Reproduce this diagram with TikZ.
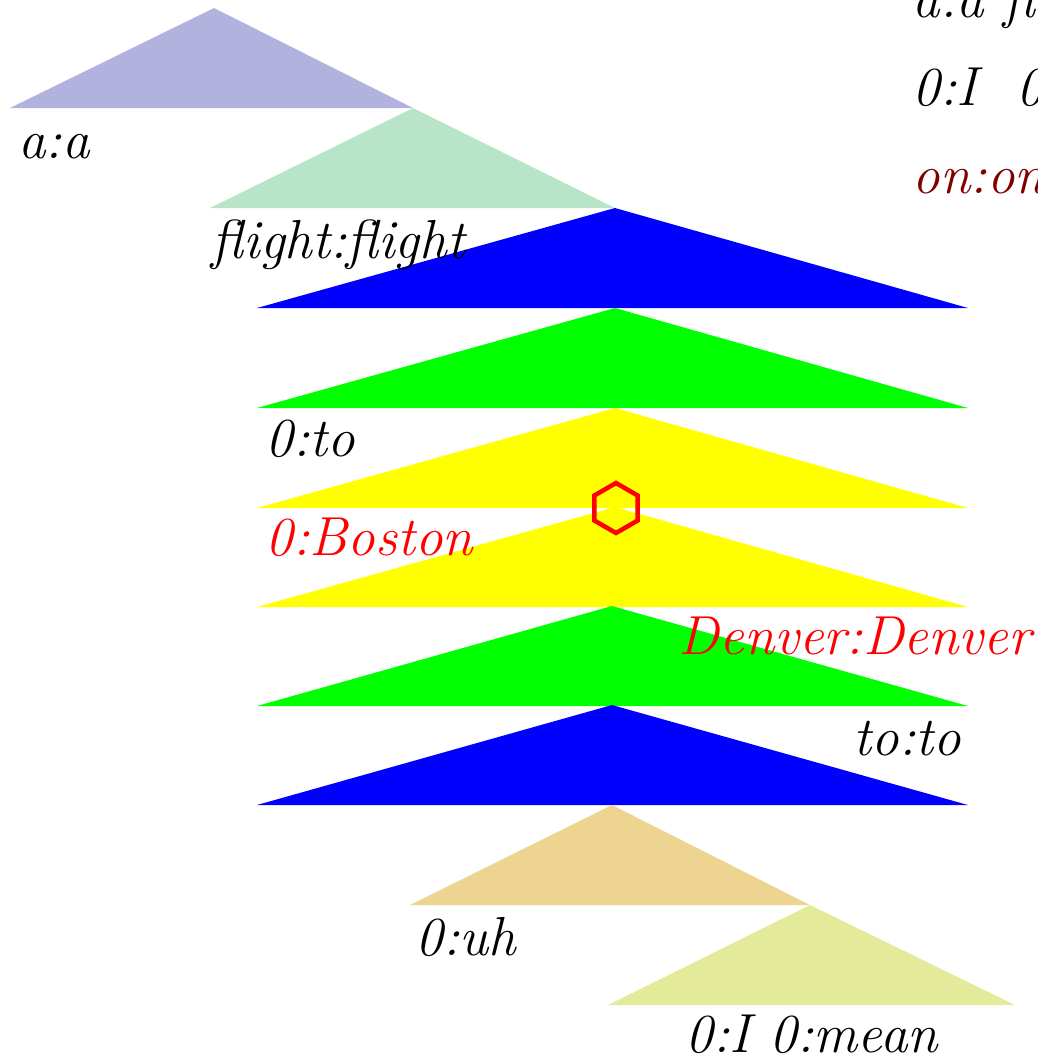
\documentclass[tikz,border=0pt]{standalone}
\usetikzlibrary{shapes.geometric, positioning}

\definecolor{lavender}{RGB}{178,178,223}
\definecolor{mint}{RGB}{184,229,200}
\definecolor{sand}{RGB}{237,213,145}
\definecolor{pear}{RGB}{227,235,155}
\definecolor{maroon}{RGB}{128,0,0}
\definecolor{pureyellow}{RGB}{255,255,0}

\begin{document}
\begin{tikzpicture}[
    x=0.2pt, y=-0.2pt,
    % Filled span triangle
    span/.style={draw=none},
    % Word label (left aligned on its baseline)
    word/.style={font=\fontsize{11}{13}\selectfont\itshape, inner sep=0pt, anchor=base west},
    % Word label (right aligned on its baseline)
    wordr/.style={word, anchor=base east},
    % Hexagon marker
    marker/.style={
        regular polygon, regular polygon sides=6, shape border rotate=90,
        draw=red, line width=0.9pt, minimum size=10pt, inner sep=0pt
    }
]
    \useasboundingbox (0,0) rectangle (1038,1057);

    % =========================================================================
    % Span triangles, top to bottom
    % =========================================================================
    \fill[span, lavender]   (214,8)   -- (413,108) -- (10,108)  -- cycle;
    \fill[span, mint]       (413,108) -- (615,208) -- (210,208) -- cycle;
    \fill[span, blue]       (615,208) -- (968,308) -- (257,308) -- cycle;
    \fill[span, green]      (615,308) -- (968,408) -- (257,408) -- cycle;
    \fill[span, pureyellow] (615,408) -- (968,508) -- (257,508) -- cycle;
    \fill[span, pureyellow] (615,507) -- (968,607) -- (257,607) -- cycle;
    \fill[span, green]      (612,606) -- (968,706) -- (257,706) -- cycle;
    \fill[span, blue]       (612,705) -- (968,805) -- (257,805) -- cycle;
    \fill[span, sand]       (612,805) -- (810,905) -- (410,905) -- cycle;
    \fill[span, pear]       (810,905) -- (1015,1005) -- (608,1005) -- cycle;

    % =========================================================================
    % Marker
    % =========================================================================
    \node[marker] (hex) at (616,508) {};

    % =========================================================================
    % Word labels
    % =========================================================================
    \node[word] (aa)     at (17,158)  {a:a};
    \node[word] (flight) at (211,258) {flight:flight};
    \node[word] (to0)    at (265,456) {0:to};
    \node[word, text=red] (boston) at (265,555) {0:Boston};
    \node[wordr, text=red] (denver) at (1032,654) {Denver:Denver};
    \node[wordr] (toto)  at (962,755) {to:to};
    \node[word] (uh)     at (415,955) {0:uh};
    \node[word] (mean)   at (685,1052) {0:I 0:mean};

    % Legend, cut off at the right edge
    \node[word] (leg1) at (912,17)  {a:a flight:flight};
    \node[word] (leg2) at (912,105) {0:I\ \ 0:mean};
    \node[word, text=maroon] (leg3) at (912,193) {on:on};

\end{tikzpicture}
\end{document}
